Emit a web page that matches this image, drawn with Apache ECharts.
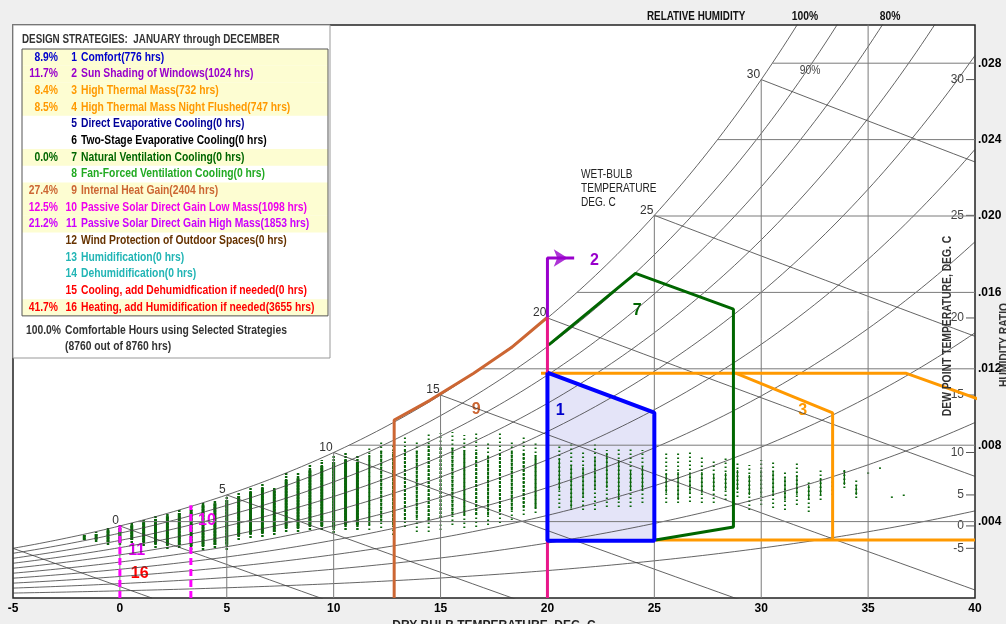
<!DOCTYPE html>
<html>
<head>
<meta charset="utf-8">
<script src="https://cdn.jsdelivr.net/npm/echarts@6/dist/echarts.min.js"></script>
<style>
html, body { margin: 0; padding: 0; background: #efefef; }
#chart { width: 1006px; height: 624px; }
</style>
</head>
<body>
<div id="chart"></div>
<script>
// ---- data ----
// hourly weather columns, one per whole degree F; humidity ratios in g/kg
var colTempF = [29,30,31,32,33,34,35,36,37,38,39,40,41,42,43,44,45,46,47,48,49,50,51,52,53,54,55,56,57,58,59,60,61,62,63,64,65,66,67,68,69,70,71,72,73,74,75,76,77,78,79,80,81,82,83,84,85,86,87,88,89,90,91,92,93,94,95,96,97,98];
var colWHigh = [3.30,3.46,3.67,3.82,3.98,4.14,4.29,4.45,4.61,4.82,5.03,5.13,5.34,5.55,5.76,6.02,5.76,6.55,6.60,6.96,7.23,7.49,7.59,7.49,7.91,8.27,8.01,8.43,8.27,8.64,8.64,8.69,8.53,8.64,8.12,8.64,8.27,8.43,8.17,8.01,8.01,8.12,7.75,8.12,7.75,7.91,7.85,7.75,6.96,7.59,7.59,7.64,7.49,7.23,7.38,7.07,6.96,7.23,7.12,6.70,7.12,6.18,6.70,6.44,6.81,6.28,6.60,6.86,5.39,5.45];
var colWLow = [3.04,2.93,2.78,2.78,2.88,2.72,2.62,2.57,2.62,2.51,2.51,2.62,2.51,3.04,3.14,3.19,3.30,3.46,3.46,3.56,3.56,3.40,3.56,3.56,3.56,3.67,3.30,3.72,3.46,3.46,3.56,3.82,3.67,3.72,3.82,3.93,4.08,4.35,4.45,4.61,4.71,4.61,4.61,4.61,4.76,4.76,4.76,4.97,4.76,4.97,4.97,5.03,4.97,4.97,5.13,5.29,4.61,4.87,4.71,4.61,4.87,4.50,5.13,5.39,5.76,5.24,6.50,6.76,5.24,5.34];
var colCoreHigh = [3.30,3.35,3.56,3.67,3.82,3.98,4.14,4.29,4.45,4.61,4.87,4.97,5.13,5.34,5.55,5.76,5.65,6.18,6.28,6.70,6.91,7.12,7.23,7.12,7.49,7.75,7.64,7.85,7.75,8.01,8.01,7.91,7.75,7.75,7.49,7.64,7.64,7.64,7.49,7.33,7.33,6.96,6.86,7.38,7.59,7.23,6.70,6.86,6.70,6.55,6.60,6.55,6.60,6.44,6.55,6.70,6.44,6.70,6.60,6.28,6.44,5.92,6.28,6.18,6.70,5.92,null,null,null,null];
var colCoreLow = [3.04,3.04,2.93,2.88,3.04,2.93,2.83,2.78,2.78,2.72,2.72,2.78,2.78,3.25,3.35,3.40,3.46,3.67,3.67,3.77,3.77,3.67,3.82,3.82,3.82,3.98,3.82,4.08,4.19,4.08,4.19,4.35,4.35,4.35,4.35,4.50,4.61,4.71,4.71,5.13,5.65,4.71,5.29,5.65,5.76,5.13,5.65,5.65,5.39,5.50,5.13,5.50,5.50,5.65,5.65,5.65,5.39,5.39,5.39,5.13,5.39,5.13,5.39,5.65,5.92,5.39,null,null,null,null];

// strategy zones, [dry-bulb C, humidity ratio g/kg]
var comfortZone = [[20, 11.8], [25, 9.7], [25, 3.0], [20, 3.0], [20, 11.8]];
var sunShadingLine = [[20, 14.7], [20, 17.8], [21.25, 17.8]];
var sunShadingArrow = [20.95, 17.8];
var highMassLine = [[19.7, 11.77], [28.8, 11.77], [33.34, 9.69], [33.34, 3.04]];
var nightFlushTop = [[28.8, 11.77], [36.76, 11.77], [43, 9.27]];
var nightFlushBottom = [[25.06, 3.04], [40, 3.04]];
var naturalVentLine = [[20.06, 13.25], [24.12, 17.0], [28.7, 15.12], [28.7, 3.72], [25.06, 3.04]];
var internalGainLine = [[12.83, 0], [12.83, 9.32], [14.5, 10.35], [16.55, 11.77], [18.3, 13.1], [20, 14.7]];
var passiveSolarEdge = [[20, 0], [20, 14.7]];
var passiveLowMassEdge = [[3.32, 0], [3.32, 4.85]];
var passiveHighMassEdge = [[0, 0], [0, 3.8]];
var zoneLabels = [[20.6, 9.79, '1'], [22.2, 17.65, '2'], [31.94, 9.79, '3'], [24.2, 15.03, '7'], [16.67, 9.84, '9'], [4.07, 4.03, '10'], [0.79, 2.46, '11'], [0.93, 1.26, '16']];

// legend table
var strategyNames = ['Comfort', 'Sun Shading of Windows', 'High Thermal Mass', 'High Thermal Mass Night Flushed', 'Direct Evaporative Cooling', 'Two-Stage Evaporative Cooling', 'Natural Ventilation Cooling', 'Fan-Forced Ventilation Cooling', 'Internal Heat Gain', 'Passive Solar Direct Gain Low Mass', 'Passive Solar Direct Gain High Mass', 'Wind Protection of Outdoor Spaces', 'Humidification', 'Dehumidification', 'Cooling, add Dehumidfication if needed', 'Heating, add Humidification if needed'];
var strategyHours = [776, 1024, 732, 747, 0, 0, 0, 0, 2404, 1098, 1853, 0, 0, 0, 0, 3655];
var strategyPct = ['8.9%', '11.7%', '8.4%', '8.5%', '', '', '0.0%', '', '27.4%', '12.5%', '21.2%', '', '', '', '', '41.7%'];
var strategyColors = ['#0000cc', '#9900cc', '#ff9900', '#ff9900', '#000099', '#000000', '#006600', '#22aa22', '#cc6633', '#ee00ee', '#cc00ff', '#663300', '#22b5b5', '#22b5b5', '#ff0000', '#ff0000'];

// psychrometric grid
var humidityTicks = [0.004, 0.008, 0.012, 0.016, 0.020, 0.024, 0.028];
var dewPointTicks = [-5, 0, 5, 10, 15, 20, 25, 30];
var wetBulbLabels = [0, 5, 10, 15, 20, 25, 30];
var wetBulbLines = [-5, 0, 5, 10, 15, 20, 25, 30];
var dryBulbLines = [0, 5, 10, 15, 20, 25, 30, 35];
var rhLevels = [10, 20, 30, 40, 50, 60, 70, 80, 90, 100];

var FONT = "'Liberation Sans',Arial,sans-serif";
var NARROW = 0.86;
var P = 101.325;
function pws(t) { return 0.61094 * Math.exp(17.625 * t / (t + 243.04)); }
function wAt(t, rh) { var p = rh * pws(t); return 0.622 * p / (P - p); }
function wWetBulb(t, twb) {
  var ws = wAt(twb, 1);
  return ((2501 - 2.326 * twb) * ws - 1.006 * (t - twb)) / (2501 + 1.86 * t - 4.186 * twb);
}
function tSat(w) {
  var lo = -30, hi = 60;
  for (var i = 0; i < 60; i++) { var m = (lo + hi) / 2; if (wAt(m, 1) < w) lo = m; else hi = m; }
  return (lo + hi) / 2;
}
function kg(pts) { return pts.map(function (p) { return [p[0], p[1] / 1000]; }); }

var chart = echarts.init(document.getElementById('chart'));
var series = [];

function addLine(pts, color, width, dash) {
  series.push({
    type: 'line', data: pts, symbol: 'none', silent: true, clip: true,
    lineStyle: { color: color, width: width, type: dash || 'solid' }
  });
}

// comfort fill under everything
series.push({
  type: 'custom', silent: true, clip: true, data: [[20, 0.005]],
  renderItem: function (params, api) {
    return { type: 'polygon', shape: { points: kg(comfortZone).map(function (p) { return api.coord(p); }) },
      style: { fill: '#e4e4f8' } };
  }
});

// relative humidity curves
rhLevels.forEach(function (rh) {
  var pts = [];
  for (var t = -5; t <= 40.01; t += 0.25) {
    var w = wAt(t, rh / 100);
    pts.push([t, w]);
    if (w > 0.031) break;
  }
  addLine(pts, '#3c3c3c', 0.8);
});
// wet-bulb lines
wetBulbLines.forEach(function (twb) {
  var pts = [];
  for (var t = twb; t <= 40.01; t += 0.5) {
    var w = wWetBulb(t, twb);
    pts.push([t, w]);
    if (w < 0) break;
  }
  addLine(pts, '#3c3c3c', 0.8);
});
// dry-bulb verticals and humidity-ratio horizontals
dryBulbLines.forEach(function (t) { addLine([[t, 0], [t, Math.min(wAt(t, 1), 0.031)]], '#7a7a7a', 1); });
humidityTicks.forEach(function (w) { addLine([[tSat(w), w], [40, w]], '#7a7a7a', 1); });

// dew point ticks on the right edge
series.push({
  type: 'custom', silent: true, data: dewPointTicks.map(function (td) { return [td, wAt(td, 1)]; }),
  renderItem: function (params, api) {
    var p = api.coord([40, api.value(1)]);
    return { type: 'group', children: [
      { type: 'line', shape: { x1: p[0] - 9, y1: p[1], x2: p[0], y2: p[1] }, style: { stroke: '#555', lineWidth: 1 } },
      { type: 'text', x: p[0] - 11, y: p[1], style: { text: String(api.value(0)), fill: '#444', font: '12px ' + FONT, align: 'right', verticalAlign: 'middle' } }
    ] };
  }
});
// wet-bulb labels on the saturation curve
series.push({
  type: 'custom', silent: true, data: wetBulbLabels.map(function (t) { return [t, wAt(t, 1)]; }),
  renderItem: function (params, api) {
    var p = api.coord([api.value(0), api.value(1)]);
    return { type: 'text', x: p[0] - 1, y: p[1] + 1, style: { text: String(api.value(0)), fill: '#333', font: '12px ' + FONT, align: 'right', verticalAlign: 'bottom' } };
  }
});

// weather data columns
series.push({
  type: 'custom', silent: true, clip: true,
  data: colTempF.map(function (f, i) {
    return [(f - 32) / 1.8, colWLow[i] / 1000, colWHigh[i] / 1000,
      colCoreLow[i] == null ? '-' : colCoreLow[i] / 1000, colCoreHigh[i] == null ? '-' : colCoreHigh[i] / 1000];
  }),
  renderItem: function (params, api) {
    var t = api.value(0);
    var a = api.coord([t, api.value(1)]), b = api.coord([t, api.value(2)]);
    if (b[1] > a[1] - 2) b[1] = a[1] - 2;
    var dense = t < 11.5, medium = t < 20;
    var kids = [{ type: 'line', shape: { x1: a[0], y1: a[1], x2: b[0], y2: b[1] },
      style: { stroke: '#0a660a', lineWidth: dense ? 2.5 : 2, lineDash: dense ? [2, 1] : [1.5, 2.5] } }];
    var cl = api.value(3), ch = api.value(4);
    if (!isNaN(cl) && !isNaN(ch)) {
      var c1 = api.coord([t, cl]), c2 = api.coord([t, ch]);
      kids.push({ type: 'line', shape: { x1: c1[0], y1: c1[1], x2: c2[0], y2: c2[1] },
        style: { stroke: '#0a660a', lineWidth: dense ? 3 : (medium ? 2 : 1.3), lineDash: dense ? null : (medium ? [3, 1] : null) } });
    }
    return { type: 'group', children: kids };
  }
});

// strategy boundaries
addLine(kg(highMassLine), '#ff9900', 3);
addLine(kg(nightFlushTop), '#ff9900', 3);
addLine(kg(nightFlushBottom), '#ff9900', 3);
addLine(kg(naturalVentLine), '#006600', 3);
addLine(kg(internalGainLine), '#cc6633', 3);
addLine(kg(passiveSolarEdge), '#e8178a', 3);
addLine(kg(passiveLowMassEdge), '#ff00ff', 3, [7, 4]);
addLine(kg(passiveHighMassEdge), '#ff00ff', 3, [7, 4]);
addLine(kg(sunShadingLine), '#9900cc', 3);
series.push({
  type: 'scatter', silent: true, data: [[sunShadingArrow[0], sunShadingArrow[1] / 1000]],
  symbol: 'arrow', symbolSize: [13, 14], symbolRotate: -90, itemStyle: { color: '#9900cc' }
});
addLine(kg(comfortZone), '#0000ff', 4);

// zone numbers
var labelColors = { '1': '#0000cc', '2': '#9900cc', '3': '#ff9900', '7': '#006600', '9': '#cc6633', '10': '#ee00ee', '11': '#dd00ee', '16': '#ff0000' };
series.push({
  type: 'custom', silent: true, data: zoneLabels.map(function (z) { return [z[0], z[1] / 1000]; }),
  renderItem: function (params, api) {
    var p = api.coord([api.value(0), api.value(1)]);
    var txt = zoneLabels[params.dataIndex][2];
    return { type: 'text', x: p[0], y: p[1], style: { text: txt, fill: labelColors[txt], font: 'bold 16px ' + FONT, align: 'center', verticalAlign: 'middle' } };
  }
});

// legend table as graphics
var graphics = [];
function txt(x, y, s, font, color, align, extra) {
  var g = { type: 'text', x: x, y: y, scaleX: NARROW, style: { text: s, font: font, fill: color, align: align || 'left', verticalAlign: 'middle' } };
  if (extra) for (var k in extra) g[k] = extra[k];
  graphics.push(g);
}
var ROW_Y0 = 49, ROW_H = 16.68;
var B12 = 'bold 12px ' + FONT;
graphics.push({ type: 'rect', shape: { x: 13, y: 25, width: 317, height: 333 }, style: { fill: '#fff', stroke: '#999', lineWidth: 1 } });
txt(22, 40, 'DESIGN STRATEGIES:  JANUARY through DECEMBER', B12, '#333', 'left', { scaleX: 0.82 });
strategyNames.forEach(function (name, i) {
  var yTop = ROW_Y0 + i * ROW_H, yMid = yTop + ROW_H / 2;
  if (strategyPct[i] !== '') {
    graphics.push({ type: 'rect', shape: { x: 22, y: yTop, width: 306, height: ROW_H }, style: { fill: '#fdfdd2' } });
    txt(58, yMid, strategyPct[i], B12, strategyColors[i], 'right');
  }
  txt(77, yMid, String(i + 1), B12, strategyColors[i], 'right');
  txt(81, yMid, name + '(' + strategyHours[i] + ' hrs)', B12, strategyColors[i]);
});
graphics.push({ type: 'rect', shape: { x: 22, y: ROW_Y0, width: 306, height: ROW_H * 16 }, style: { fill: 'none', stroke: '#555', lineWidth: 1 } });
txt(61, 331, '100.0%', B12, '#333', 'right');
txt(65, 331, 'Comfortable Hours using Selected Strategies', B12, '#333');
txt(65, 347, '(8760 out of 8760 hrs)', B12, '#333');

// chart annotations
txt(647, 17, 'RELATIVE HUMIDITY', B12, '#111', 'left', { scaleX: 0.82 });
txt(805, 17, '100%', B12, '#111', 'center');
txt(890, 17, '80%', B12, '#111', 'center');
txt(810, 71, '90%', '12px ' + FONT, '#444', 'center');
txt(581, 189, 'WET-BULB\nTEMPERATURE\nDEG. C', '12px ' + FONT, '#222', 'left', { scaleX: 0.84 });
graphics[graphics.length - 1].style.lineHeight = 14;
txt(948, 326, 'DEW POINT TEMPERATURE, DEG. C', B12, '#333', 'center', { rotation: Math.PI / 2 });
txt(1005, 345, 'HUMIDITY RATIO', B12, '#333', 'center', { rotation: Math.PI / 2 });
graphics.forEach(function (g) { g.z = 100; g.silent = true; });

var option = {
  animation: false,
  backgroundColor: '#efefef',
  textStyle: { fontFamily: FONT },
  grid: { left: 13, right: 31, top: 25, bottom: 26, show: true, containLabel: false, outerBoundsMode: 'none',
    backgroundColor: '#fff', borderColor: '#222', borderWidth: 1.5 },
  xAxis: {
    type: 'value', min: -5, max: 40, interval: 5,
    name: 'DRY-BULB TEMPERATURE, DEG. C', nameLocation: 'middle', nameGap: 16,
    nameTextStyle: { fontWeight: 'bold', fontSize: 12, color: '#222', fontFamily: FONT },
    axisLine: { show: false }, axisTick: { show: false }, splitLine: { show: false },
    axisLabel: { color: '#000', fontWeight: 'bold', fontSize: 12, margin: 5, fontFamily: FONT }
  },
  yAxis: {
    type: 'value', position: 'right', min: 0, max: 0.030, interval: 0.004,
    axisLine: { show: false }, axisTick: { show: false }, splitLine: { show: false },
    axisLabel: {
      color: '#000', fontWeight: 'bold', fontSize: 12, margin: 3, fontFamily: FONT,
      formatter: function (v) {
        var k = v * 250;
        if (v <= 0 || v > 0.0285 || Math.abs(k - Math.round(k)) > 1e-6) return '';
        return '.' + String(Math.round(v * 1000)).padStart(3, '0');
      }
    }
  },
  graphic: graphics,
  series: series
};
chart.setOption(option);
</script>
</body>
</html>
